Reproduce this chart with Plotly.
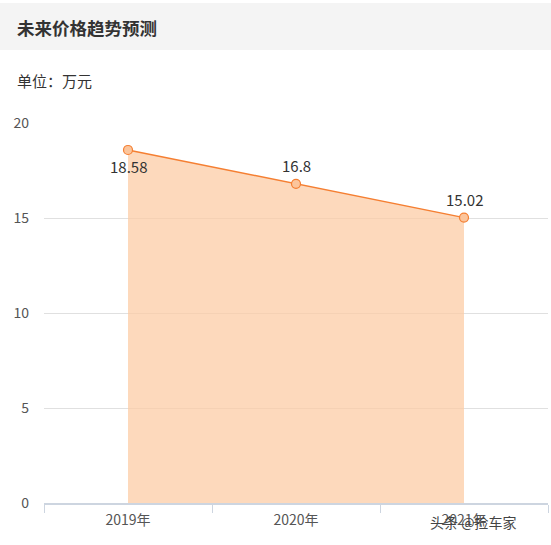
import plotly.graph_objs as go

# dados do gráfico
years = ['2019年', '2020年', '2021年']
prices = [18.58, 16.8, 15.02]
label_shift = [-17, 18, 18]
y_ticks = [0, 5, 10, 15, 20]

font_family = 'Noto Sans CJK SC, Microsoft YaHei, sans-serif'

fig = go.Figure()

fig.add_trace(go.Scatter(
    x=years,
    y=prices,
    mode='lines+markers',
    fill='tozeroy',
    fillcolor='rgba(252,204,166,0.75)',
    line=dict(color='#f57f32', width=1.5),
    marker=dict(size=9, color='#fbc59c', line=dict(color='#f57f32', width=1.2)),
    hoverinfo='x+y',
    showlegend=False,
))

# rótulos dos valores
labels = [
    dict(x=x, y=y, text=str(y), xref='x', yref='y', showarrow=False,
         yshift=s, font=dict(family=font_family, size=15, color='#333333'))
    for x, y, s in zip(years, prices, label_shift)
]

fig.update_layout(
    width=551,
    height=545,
    margin=dict(l=44, r=3, t=123, b=42),
    paper_bgcolor='white',
    plot_bgcolor='white',
    font=dict(family=font_family, color='#555555'),
    xaxis=dict(
        type='category',
        range=[-0.5, 2.5],
        showgrid=False,
        showline=True,
        linecolor='#cdd5e0',
        linewidth=2,
        ticks='outside',
        tickson='boundaries',
        ticklen=8,
        tickcolor='#cdd5e0',
        ticklabelstandoff=3,
        tickfont=dict(size=14, color='#555555'),
        fixedrange=True,
    ),
    yaxis=dict(
        range=[0, 20],
        tickvals=y_ticks,
        showgrid=True,
        gridcolor='#e0e0e0',
        gridwidth=1,
        zeroline=False,
        showline=False,
        ticks='',
        ticklabelstandoff=14,
        tickfont=dict(size=14, color='#555555'),
        fixedrange=True,
    ),
    shapes=[dict(
        type='rect', xref='paper', yref='paper',
        x0=-0.1, x1=1.01, y0=1.192, y1=1.316,
        fillcolor='#f4f4f4', line=dict(width=0), layer='below',
    )],
    annotations=labels + [
        dict(text='<b>未来价格趋势预测</b>', xref='paper', yref='paper',
             x=-0.058, y=1.252, xanchor='left', yanchor='middle', showarrow=False,
             font=dict(size=17.5, color='#333333')),
        dict(text='单位：万元', xref='paper', yref='paper',
             x=-0.058, y=1.113, xanchor='left', yanchor='middle', showarrow=False,
             font=dict(size=15, color='#333333')),
        dict(text='头条 @捡车家', xref='paper', yref='paper',
             x=0.94, y=-0.05, xanchor='right', yanchor='middle', showarrow=False,
             font=dict(size=14, color='#444444')),
    ],
)

fig.write_html('out.html', config={'displayModeBar': False},
               post_script="document.body.style.margin='0';")
